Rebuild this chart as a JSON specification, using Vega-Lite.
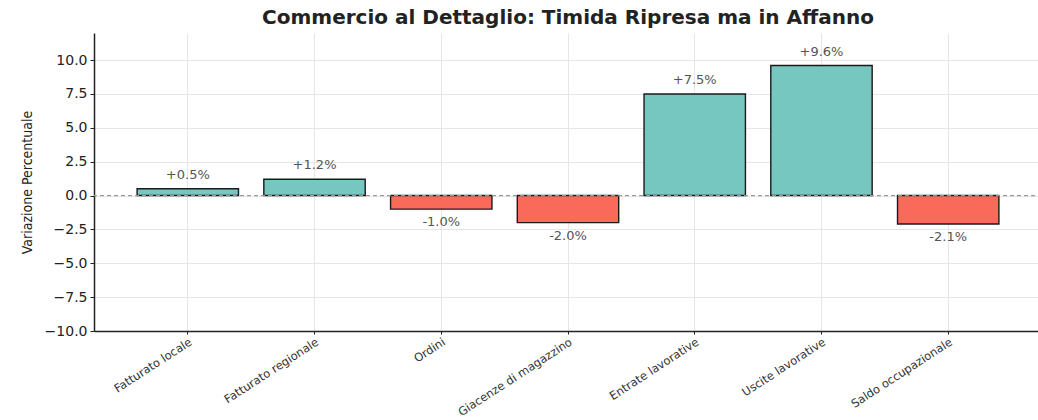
{
  "$schema": "https://vega.github.io/schema/vega-lite/v6.json",
  "autosize": {"type": "none"},
  "padding": {"left": 94, "top": 33, "right": 0, "bottom": 89},
  "width": 948,
  "height": 298,
  "background": "white",
  "title": {
    "text": "Commercio al Dettaglio: Timida Ripresa ma in Affanno",
    "font": "DejaVu Sans",
    "fontSize": 20,
    "fontWeight": "bold",
    "color": "#222222",
    "anchor": "middle",
    "offset": 5
  },
  "data": {
    "values": [
      {"categoria": "Fatturato locale", "valore": 0.5, "etichetta": "+0.5%"},
      {"categoria": "Fatturato regionale", "valore": 1.2, "etichetta": "+1.2%"},
      {"categoria": "Ordini", "valore": -1.0, "etichetta": "-1.0%"},
      {"categoria": "Giacenze di magazzino", "valore": -2.0, "etichetta": "-2.0%"},
      {"categoria": "Entrate lavorative", "valore": 7.5, "etichetta": "+7.5%"},
      {"categoria": "Uscite lavorative", "valore": 9.6, "etichetta": "+9.6%"},
      {"categoria": "Saldo occupazionale", "valore": -2.1, "etichetta": "-2.1%"}
    ]
  },
  "encoding": {
    "x": {
      "field": "categoria",
      "type": "nominal",
      "sort": null,
      "scale": {"paddingInner": 0.2, "paddingOuter": 0.34},
      "axis": {
        "title": null,
        "labelAngle": -33,
        "labelAlign": "right",
        "labelBaseline": "top",
        "labelFont": "DejaVu Sans",
        "labelFontSize": 11.5,
        "labelColor": "#333333",
        "labelPadding": 2,
        "labelOverlap": false,
        "labelLimit": 300,
        "domainColor": "#222222",
        "domainWidth": 1.5,
        "tickColor": "#222222",
        "tickSize": 3,
        "grid": true,
        "gridColor": "#e6e6e6",
        "gridWidth": 1
      }
    },
    "y": {
      "field": "valore",
      "type": "quantitative",
      "scale": {"domain": [-10, 12], "nice": false},
      "axis": {
        "title": "Variazione Percentuale",
        "titleFont": "DejaVu Sans Condensed, Roboto Condensed, Liberation Sans Narrow, DejaVu Sans",
        "titleFontSize": 14,
        "titleFontWeight": "normal",
        "titleColor": "#222222",
        "titlePadding": 10,
        "values": [-10, -7.5, -5, -2.5, 0, 2.5, 5, 7.5, 10],
        "format": ".1f",
        "labelOverlap": false,
        "labelFont": "DejaVu Sans",
        "labelFontSize": 14,
        "labelColor": "#222222",
        "labelPadding": 3,
        "domainColor": "#222222",
        "domainWidth": 1.5,
        "tickColor": "#222222",
        "tickSize": 4,
        "gridColor": "#e6e6e6",
        "gridWidth": 1
      }
    }
  },
  "layer": [
    {
      "mark": {"type": "bar", "stroke": "#1a1a1a", "strokeWidth": 1.4},
      "encoding": {
        "color": {
          "condition": {"test": "datum.valore >= 0", "value": "#76c7c0"},
          "value": "#fa6a5a"
        }
      }
    },
    {
      "mark": {"type": "rule", "color": "#999999", "strokeDash": [4, 3], "strokeWidth": 1},
      "encoding": {"y": {"datum": 0}, "x": null}
    },
    {
      "transform": [{"filter": "datum.valore >= 0"}],
      "mark": {"type": "text", "baseline": "bottom", "dy": -7, "font": "DejaVu Sans", "fontSize": 13, "color": "#555555"},
      "encoding": {
        "text": {"field": "etichetta"}
      }
    },
    {
      "transform": [{"filter": "datum.valore < 0"}],
      "mark": {"type": "text", "baseline": "top", "dy": 7, "font": "DejaVu Sans", "fontSize": 13, "color": "#555555"},
      "encoding": {
        "text": {"field": "etichetta"}
      }
    }
  ],
  "config": {
    "view": {"stroke": null},
    "axis": {"gridDash": []}
  }
}
